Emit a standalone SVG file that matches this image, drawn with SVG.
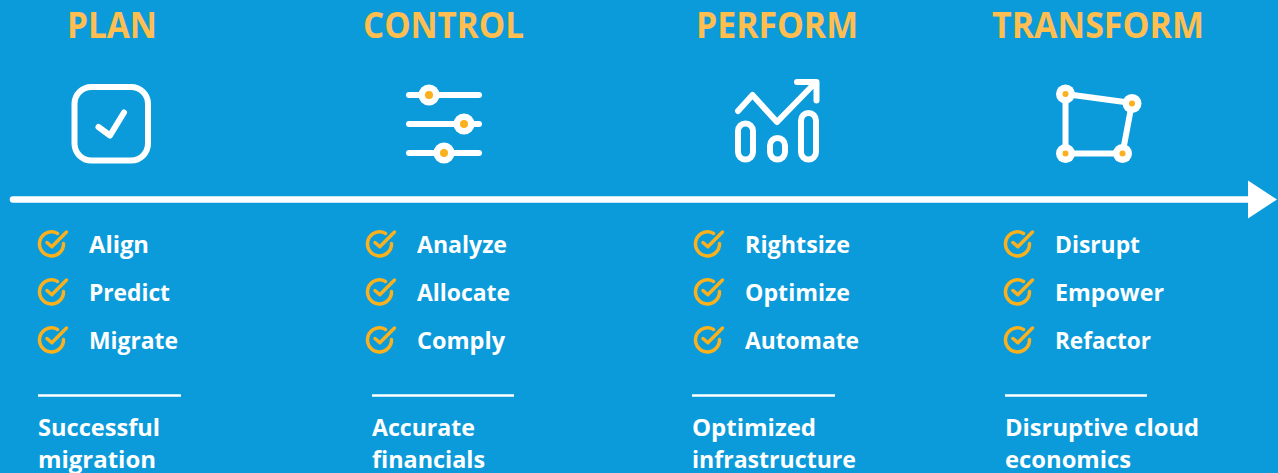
<svg xmlns="http://www.w3.org/2000/svg" xmlns:xlink="http://www.w3.org/1999/xlink" width="1278" height="473" viewBox="0 0 1278 473">
<style>
text{font-family:"Open Sans","Noto Sans","Liberation Sans",sans-serif}
.t{font-size:36px;font-weight:700;fill:#ffbe4f}
.i{font-size:24px;font-weight:700;fill:#fff}
.o{font-size:24px;font-weight:700;fill:#fff}
.w{fill:none;stroke:#fff;stroke-width:6;stroke-linecap:round;stroke-linejoin:round}
.k{fill:#fff}
.d{fill:#fbb01d}
.r{stroke:#fff;stroke-width:2.5}
</style>
<defs>
<g id="chk" fill="none" stroke="#fbb01d" stroke-width="3.500" stroke-linecap="round" stroke-linejoin="round">
<path d="M19.500 2.500A12 12 0 1 0 25.500 12.500"/>
<path d="M9 11.500L13.800 15.700L28.500 1"/>
</g>
</defs>
<rect width="1278" height="473" fill="#0b9bdb"/>
<g id="connectors">
<path d="M13 199.500H1250" stroke="#fff" stroke-width="6.500" stroke-linecap="round"/>
<path d="M1248 180.500L1277 199.500L1248 218.500Z" fill="#fff"/>
</g>
<g id="plan">
<text class="t" x="67" y="38" textLength="90" lengthAdjust="spacingAndGlyphs">PLAN</text>
<rect class="w" x="74.500" y="87" width="73.500" height="73.500" rx="17"/>
<path class="w" d="M98.500 127L110 135.500L124 112.500"/>
<use href="#chk" x="38" y="231"/><text class="i" x="89" y="253" textLength="60" lengthAdjust="spacingAndGlyphs">Align</text>
<use href="#chk" x="38" y="279"/><text class="i" x="89" y="301" textLength="81" lengthAdjust="spacingAndGlyphs">Predict</text>
<use href="#chk" x="38" y="327"/><text class="i" x="89" y="349" textLength="89" lengthAdjust="spacingAndGlyphs">Migrate</text>
<path class="r" d="M38 395.500H181"/>
<text class="o" x="38" y="436" textLength="122" lengthAdjust="spacingAndGlyphs">Successful</text>
<text class="o" x="38" y="468" textLength="118" lengthAdjust="spacingAndGlyphs">migration</text>
</g>
<g id="control">
<text class="t" x="363" y="38" textLength="161" lengthAdjust="spacingAndGlyphs">CONTROL</text>
<path class="w" d="M409 95H479M409 124H479M409 153H479"/>
<circle class="k" cx="429" cy="95" r="10.500"/><circle class="d" cx="429" cy="95" r="4"/>
<circle class="k" cx="464" cy="124" r="10.500"/><circle class="d" cx="464" cy="124" r="4"/>
<circle class="k" cx="444" cy="153" r="10.500"/><circle class="d" cx="444" cy="153" r="4"/>
<use href="#chk" x="366" y="231"/><text class="i" x="417" y="253" textLength="90" lengthAdjust="spacingAndGlyphs">Analyze</text>
<use href="#chk" x="366" y="279"/><text class="i" x="417" y="301" textLength="93" lengthAdjust="spacingAndGlyphs">Allocate</text>
<use href="#chk" x="366" y="327"/><text class="i" x="417" y="349" textLength="88" lengthAdjust="spacingAndGlyphs">Comply</text>
<path class="r" d="M372 395.500H514"/>
<text class="o" x="372" y="436" textLength="103" lengthAdjust="spacingAndGlyphs">Accurate</text>
<text class="o" x="372" y="468" textLength="113" lengthAdjust="spacingAndGlyphs">financials</text>
</g>
<g id="perform">
<text class="t" x="696" y="38" textLength="162" lengthAdjust="spacingAndGlyphs">PERFORM</text>
<path class="w" d="M738 111L752.500 95L777 122L815 83M797 82H816.500V100.500"/>
<rect class="w" x="738" y="123.500" width="15" height="36" rx="7.500"/>
<rect class="w" x="770" y="138" width="15" height="21.500" rx="7.500"/>
<rect class="w" x="801" y="113" width="15" height="46.500" rx="7.500"/>
<use href="#chk" x="694" y="231"/><text class="i" x="745" y="253" textLength="105" lengthAdjust="spacingAndGlyphs">Rightsize</text>
<use href="#chk" x="694" y="279"/><text class="i" x="745" y="301" textLength="105" lengthAdjust="spacingAndGlyphs">Optimize</text>
<use href="#chk" x="694" y="327"/><text class="i" x="745" y="349" textLength="114" lengthAdjust="spacingAndGlyphs">Automate</text>
<path class="r" d="M692 395.500H835"/>
<text class="o" x="692" y="436" textLength="124" lengthAdjust="spacingAndGlyphs">Optimized</text>
<text class="o" x="692" y="468" textLength="164" lengthAdjust="spacingAndGlyphs">infrastructure</text>
</g>
<g id="transform">
<text class="t" x="992" y="38" textLength="212" lengthAdjust="spacingAndGlyphs">TRANSFORM</text>
<path class="w" d="M1065.500 94L1132 103L1122.500 153.500H1065.500Z"/>
<circle class="k" cx="1065.500" cy="94" r="9.500"/><circle class="d" cx="1065.500" cy="94" r="3"/>
<circle class="k" cx="1132" cy="103.500" r="9.500"/><circle class="d" cx="1132" cy="103.500" r="3"/>
<circle class="k" cx="1122.500" cy="153.500" r="9.500"/><circle class="d" cx="1122.500" cy="153.500" r="3"/>
<circle class="k" cx="1065.500" cy="153.500" r="9.500"/><circle class="d" cx="1065.500" cy="153.500" r="3"/>
<use href="#chk" x="1004" y="231"/><text class="i" x="1055" y="253" textLength="85" lengthAdjust="spacingAndGlyphs">Disrupt</text>
<use href="#chk" x="1004" y="279"/><text class="i" x="1055" y="301" textLength="109" lengthAdjust="spacingAndGlyphs">Empower</text>
<use href="#chk" x="1004" y="327"/><text class="i" x="1055" y="349" textLength="96" lengthAdjust="spacingAndGlyphs">Refactor</text>
<path class="r" d="M1005 395.500H1147"/>
<text class="o" x="1005" y="436" textLength="194" lengthAdjust="spacingAndGlyphs">Disruptive cloud</text>
<text class="o" x="1005" y="468" textLength="126" lengthAdjust="spacingAndGlyphs">economics</text>
</g>
</svg>
